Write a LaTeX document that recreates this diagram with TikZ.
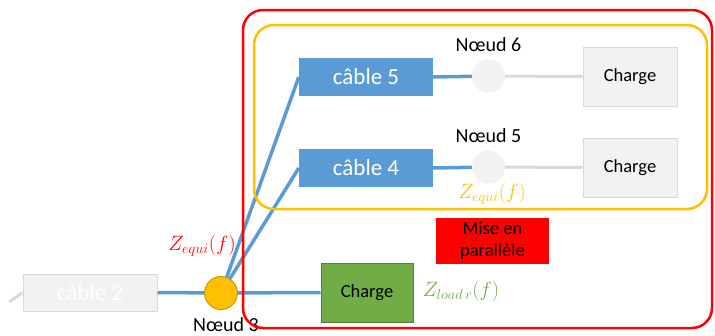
\documentclass[tikz,border=0pt]{standalone}
\usepackage{fontspec}
\setmainfont{Carlito}
\usetikzlibrary{positioning}
\definecolor{cblue}{HTML}{5B9BD5}
\definecolor{corange}{HTML}{FFC000}
\definecolor{cbrown}{HTML}{BF9000}
\definecolor{lightgray}{HTML}{F2F2F2}
\definecolor{midgray}{HTML}{D9D9D9}
\definecolor{cgreen}{HTML}{70AD47}
\definecolor{darkgreen}{HTML}{548235}

\tikzset{
  cable/.style={fill=cblue, minimum width=134pt, minimum height=38pt, inner sep=0pt, text=white, font=\fontsize{23}{27}\selectfont},
  load/.style={fill=lightgray, draw=midgray, line width=1pt, minimum width=94pt, minimum height=59pt, inner sep=0pt, font=\fontsize{18.5}{22}\selectfont},
  junction/.style={circle, fill=lightgray, minimum size=33pt, inner sep=0pt},
  lbl/.style={inner sep=0pt, font=\fontsize{20}{24}\selectfont},
  zlbl/.style={inner sep=0pt, font=\fontsize{22}{26}\selectfont},
  wire/.style={cblue, line width=3.5pt},
  greywire/.style={midgray, line width=3pt},
  frame/.style={line width=2.5pt, rounded corners=20pt}
}

\begin{document}
\begin{tikzpicture}[x=1pt, y=-1pt]
    \useasboundingbox (0,0) rectangle (715,335);
    % left branch
    \coordinate (c1) at (9,302);
    \node[load, text=white, minimum width=134pt, minimum height=37pt, font=\fontsize{23}{27}\selectfont] (c2) at (90,292.5) {câble 2};
    \node[circle, fill=corange, draw=cbrown, line width=0.8pt, minimum size=33pt, inner sep=0pt] (n3) at (221,293) {};
    \node[lbl, below=8pt of n3, xshift=5pt] {Nœud 3};
    % parallel branches
    \node[cable] (c5) at (366,77) {câble 5};
    \node[cable] (c4) at (366,168) {câble 4};
    \node[junction] (n6) at (488.5,76) {};
    \node[junction] (n5) at (488.5,167) {};
    \node[lbl, above=7pt of n6] {Nœud 6};
    \node[lbl, above=7pt of n5] {Nœud 5};
    \node[load] (ch6) at (630,76.5) {Charge};
    \node[load] (ch5) at (630,167.5) {Charge};
    % local load
    \node[load, fill=cgreen, draw=darkgreen, minimum width=92pt] (ch3) at (367,292.5) {Charge};
    \node[fill=red, minimum width=113pt, minimum height=46pt, inner sep=0pt, align=center, font=\fontsize{18.5}{22}\selectfont] (par) at (492.5,241) {Mise en\\parallèle};
    % impedances
    \node[zlbl, text=red] at (202,246) {$Z_{equi}(f)$};
    \node[zlbl, text=corange] at (492,194) {$Z_{equi}(f)$};
    \node[zlbl, text=cgreen] at (461,291) {$Z_{load\,r}(f)$};
    % wires
    \draw[greywire] (c1) -- (c2.west);
    \draw[wire] (c2.east) -- (n3);
    \draw[wire] (n3) -- (ch3.west);
    \draw[wire] (n3) -- (c5.west);
    \draw[wire] (n3) -- (c4.west);
    \draw[wire] (c5.east) -- (n6);
    \draw[wire] (c4.east) -- (n5);
    \draw[greywire] (n6) -- (ch6.west);
    \draw[greywire] (n5) -- (ch5.west);
    % frames
    \draw[frame, corange] (254,25) rectangle (707,209);
    \draw[frame, red] (243,10) rectangle (712,328);
\end{tikzpicture}
\end{document}
